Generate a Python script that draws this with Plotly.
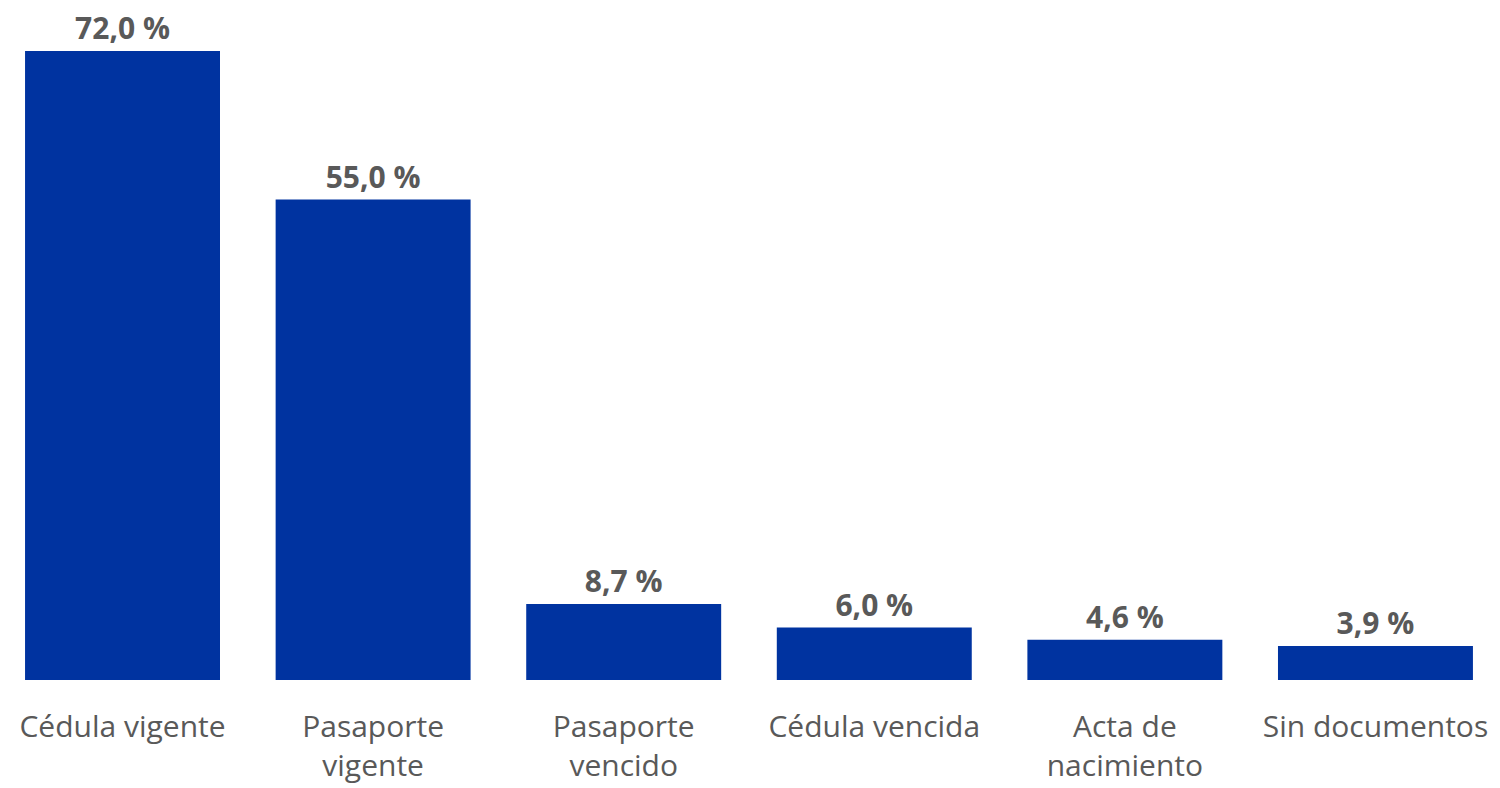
import plotly.graph_objects as go

categories = ['Cédula vigente', 'Pasaporte<br>vigente', 'Pasaporte<br>vencido',
              'Cédula vencida', 'Acta de<br>nacimiento', 'Sin documentos']
values = [72.0, 55.0, 8.7, 6.0, 4.6, 3.9]

fig = go.Figure(go.Bar(
    x=categories,
    y=values,
    marker=dict(color='#0033A0', line=dict(width=0)),
    width=0.778,
    texttemplate='%{y:.1f} %',
    textposition='outside',
    cliponaxis=False,
    textfont=dict(family='Open Sans', size=30, color='#595959', weight='bold'),
))

# the page puts the figure 8px in from the top-left corner
fig.update_layout(
    width=1492,
    height=780,
    margin=dict(l=0, r=0, t=0, b=108),
    plot_bgcolor='white',
    paper_bgcolor='white',
    separators=',.',
    showlegend=False,
    font=dict(family='Open Sans', color='#595959'),
)
fig.update_xaxes(
    range=[-0.457, 5.497],
    showline=False, showgrid=False,
    ticks='outside', ticklen=20, tickcolor='white',
    tickfont=dict(size=30, color='#595959', family='Open Sans'),
)
fig.update_yaxes(range=[0, 76.92], visible=False)

fig.write_html('out.html')
